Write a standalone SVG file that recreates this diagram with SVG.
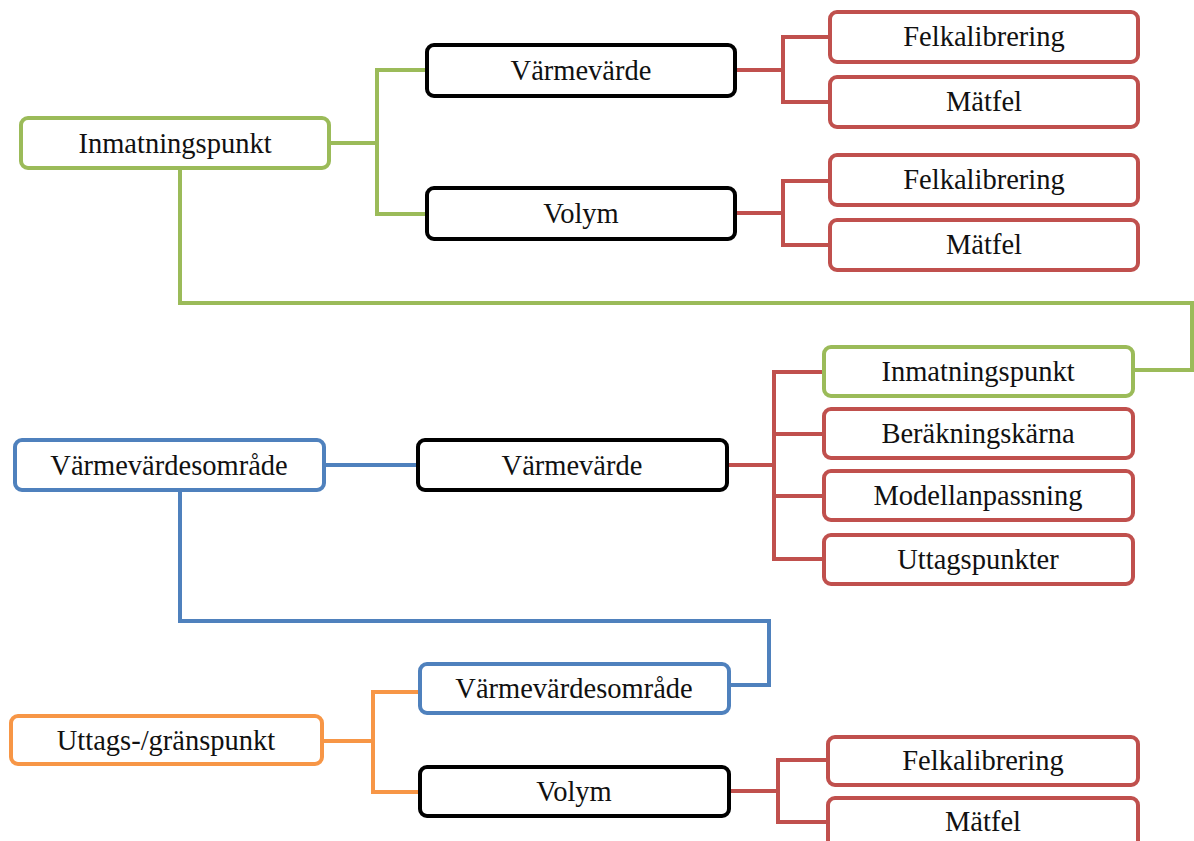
<svg xmlns="http://www.w3.org/2000/svg" width="1194" height="841" viewBox="0 0 1194 841">
<style>
.n rect{fill:#fff;stroke-width:4}
.g rect{stroke:#9BBB59}.b rect{stroke:#4F81BD}.o rect{stroke:#F79646}.r rect{stroke:#C0504D}.k rect{stroke:#000}
.n text{font-family:"Liberation Serif","Times New Roman",serif;font-size:28.5px;fill:#111;text-anchor:middle}
.c path{fill:none;stroke-width:4;stroke-linejoin:miter}
.cg{stroke:#9BBB59}.cb{stroke:#4F81BD}.co{stroke:#F79646}.cr{stroke:#C0504D}
</style>
<rect width="1194" height="841" fill="#fff"/>
<g class="c" id="connectors">
<path class="cg" d="M329,143H377M427,70H377V214H427"/>
<path class="cr" d="M735,70H783M830,37H783V102H830"/>
<path class="cr" d="M735,213H783M830,181H783V245H830"/>
<path class="cg" d="M180,168V303H1192V370H1133"/>
<path class="cr" d="M727,465H774M824,372H774V559H824M774,434H824M774,496H824"/>
<path class="cb" d="M324,465H418"/>
<path class="cb" d="M180,490V621H769V685H729"/>
<path class="co" d="M322,741H373M420,692H373V792H420"/>
<path class="cr" d="M729,791H778M828,760H778V822H828"/>
</g>
<g class="n g" id="n1"><rect x="21" y="118" width="308" height="50" rx="7"/><text x="175" y="153">Inmatningspunkt</text></g>
<g class="n k" id="n2"><rect x="427" y="45" width="308" height="51" rx="7"/><text x="581" y="80">Värmevärde</text></g>
<g class="n k" id="n3"><rect x="427" y="188" width="308" height="51" rx="7"/><text x="581" y="223">Volym</text></g>
<g class="n r" id="n4"><rect x="830" y="12" width="308" height="50" rx="7"/><text x="984" y="46">Felkalibrering</text></g>
<g class="n r" id="n5"><rect x="830" y="77" width="308" height="50" rx="7"/><text x="984" y="111">Mätfel</text></g>
<g class="n r" id="n6"><rect x="830" y="155" width="308" height="50" rx="7"/><text x="984" y="189">Felkalibrering</text></g>
<g class="n r" id="n7"><rect x="830" y="220" width="308" height="50" rx="7"/><text x="984" y="254">Mätfel</text></g>
<g class="n g" id="n8"><rect x="824" y="347" width="309" height="49" rx="7"/><text x="978" y="381">Inmatningspunkt</text></g>
<g class="n r" id="n9"><rect x="824" y="409" width="309" height="49" rx="7"/><text x="978" y="443">Beräkningskärna</text></g>
<g class="n r" id="n10"><rect x="824" y="471" width="309" height="49" rx="7"/><text x="978" y="505">Modellanpassning</text></g>
<g class="n r" id="n11"><rect x="824" y="535" width="309" height="49" rx="7"/><text x="978" y="569">Uttagspunkter</text></g>
<g class="n k" id="n12"><rect x="418" y="440" width="309" height="50" rx="7"/><text x="572" y="475">Värmevärde</text></g>
<g class="n b" id="n13"><rect x="15" y="440" width="309" height="50" rx="7"/><text x="169" y="475">Värmevärdesområde</text></g>
<g class="n b" id="n14"><rect x="420" y="664" width="309" height="49" rx="7"/><text x="574" y="698">Värmevärdesområde</text></g>
<g class="n o" id="n15"><rect x="11" y="716" width="311" height="48" rx="7"/><text x="166" y="750">Uttags-/gränspunkt</text></g>
<g class="n k" id="n16"><rect x="420" y="767" width="309" height="49" rx="7"/><text x="574" y="801">Volym</text></g>
<g class="n r" id="n17"><rect x="828" y="737" width="310" height="48" rx="7"/><text x="983" y="770">Felkalibrering</text></g>
<g class="n r" id="n18"><rect x="828" y="798" width="310" height="50" rx="7"/><text x="983" y="831">Mätfel</text></g>
</svg>
